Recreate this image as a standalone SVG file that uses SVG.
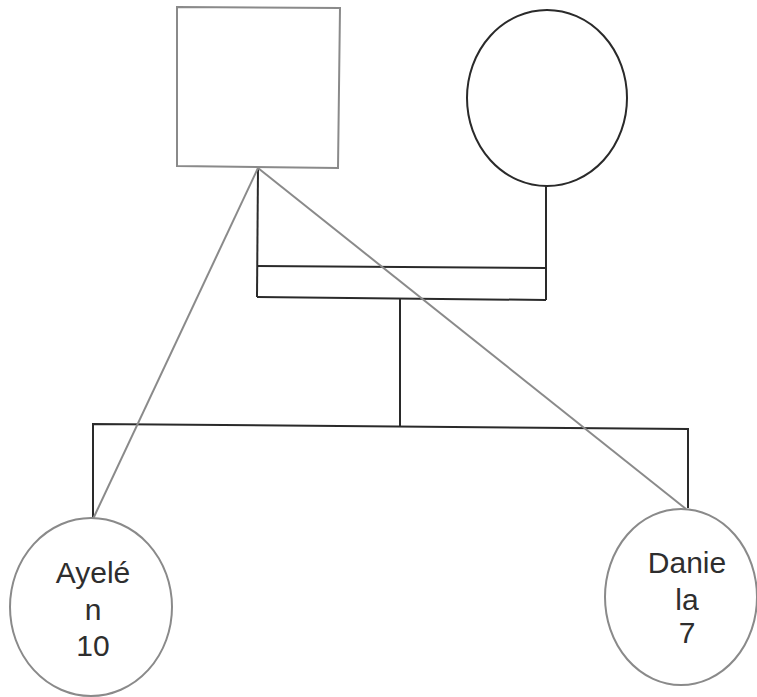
<svg xmlns="http://www.w3.org/2000/svg" width="757" height="697" viewBox="0 0 757 697">
<style>
.bg{fill:#fff}
.dark{fill:none;stroke:#2a2a2a;stroke-width:2}
.gray{fill:none;stroke:#8a8a8a;stroke-width:2}
.lbl{font-family:"Liberation Sans",Arial,sans-serif;font-size:30px;fill:#2e2e2e;text-anchor:middle}
</style>
<rect class="bg" x="0" y="0" width="757" height="697"/>
<g id="connectors">
<polyline class="dark" points="258,168 257,297"/>
<polyline class="dark" points="546,186 546,300"/>
<polyline class="dark" points="257,266 546,268"/>
<polyline class="dark" points="257,297 546,300"/>
<polyline class="dark" points="400,299 400,426"/>
<polyline class="dark" points="93,518 93,424 688,429 688,508"/>
<line class="gray" x1="258" y1="168" x2="93" y2="519"/>
<line class="gray" x1="258" y1="168" x2="686" y2="509"/>
</g>
<g id="father">
<polygon class="gray" points="177,7 340,8 338,168 177,166"/>
</g>
<g id="mother">
<ellipse class="dark" cx="547" cy="98" rx="80" ry="88"/>
</g>
<g id="ayelen">
<ellipse class="gray" cx="91" cy="607" rx="81" ry="89" style="fill:#fff"/>
<text class="lbl" x="93" y="583">Ayelé</text>
<text class="lbl" x="93" y="620">n</text>
<text class="lbl" x="93" y="656">10</text>
</g>
<g id="daniela">
<ellipse class="gray" cx="681" cy="597" rx="76" ry="88" style="fill:#fff"/>
<text class="lbl" x="687" y="573">Danie</text>
<text class="lbl" x="687" y="610">la</text>
<text class="lbl" x="687" y="643">7</text>
</g>
</svg>
